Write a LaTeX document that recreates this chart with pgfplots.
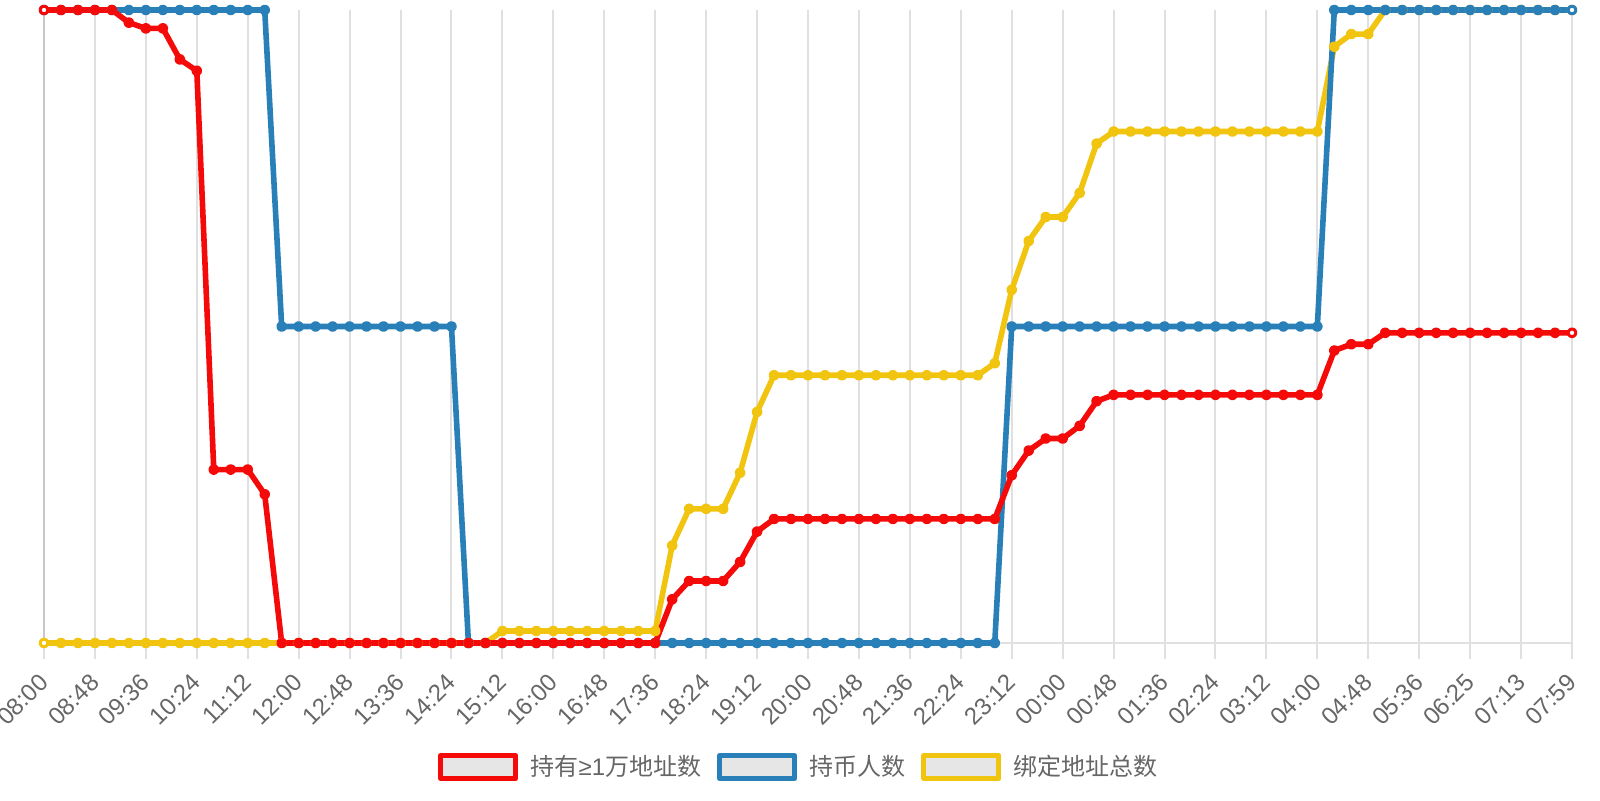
\documentclass[border=0pt]{standalone}
\usepackage{fontspec}
\setmainfont{Liberation Sans}
\newfontfamily\cjk{Noto Sans CJK SC}
\newfontfamily\lat{Liberation Sans}
\usepackage{pgfplots}
\usepackage{pgfplotstable}
\pgfplotsset{compat=1.18}

\definecolor{cred}{HTML}{F50A0A}
\definecolor{cblue}{HTML}{2980B9}
\definecolor{cyellow}{HTML}{F1C40F}
\definecolor{gridc}{HTML}{E0E0E0}
\definecolor{axisc}{HTML}{C8C8C8}
\definecolor{txt}{HTML}{666666}
\definecolor{boxfill}{HTML}{E6E6E6}

% i = sample index (every 16 min), r = red, b = blue, y = yellow
\pgfplotstableread{
i r b y
0 100 100 0
1 100 100 0
2 100 100 0
3 100 100 0
4 100 100 0
5 98.0 100 0
6 97.1 100 0
7 97.1 100 0
8 92.2 100 0
9 90.4 100 0
10 27.4 100 0
11 27.4 100 0
12 27.4 100 0
13 23.5 100 0
14 0 50 0
15 0 50 0
16 0 50 0
17 0 50 0
18 0 50 0
19 0 50 0
20 0 50 0
21 0 50 0
22 0 50 0
23 0 50 0
24 0 50 0
25 0 0 0
26 0 0 0
27 0 0 1.9
28 0 0 1.9
29 0 0 1.9
30 0 0 1.9
31 0 0 1.9
32 0 0 1.9
33 0 0 1.9
34 0 0 1.9
35 0 0 1.9
36 0 0 1.9
37 6.9 0 15.4
38 9.8 0 21.2
39 9.8 0 21.2
40 9.8 0 21.2
41 12.8 0 26.9
42 17.6 0 36.5
43 19.6 0 42.3
44 19.6 0 42.3
45 19.6 0 42.3
46 19.6 0 42.3
47 19.6 0 42.3
48 19.6 0 42.3
49 19.6 0 42.3
50 19.6 0 42.3
51 19.6 0 42.3
52 19.6 0 42.3
53 19.6 0 42.3
54 19.6 0 42.3
55 19.6 0 42.3
56 19.6 0 44.2
57 26.5 50 55.8
58 30.4 50 63.5
59 32.3 50 67.3
60 32.3 50 67.3
61 34.3 50 71.1
62 38.2 50 78.9
63 39.2 50 80.8
64 39.2 50 80.8
65 39.2 50 80.8
66 39.2 50 80.8
67 39.2 50 80.8
68 39.2 50 80.8
69 39.2 50 80.8
70 39.2 50 80.8
71 39.2 50 80.8
72 39.2 50 80.8
73 39.2 50 80.8
74 39.2 50 80.8
75 39.2 50 80.8
76 46.2 100 94.2
77 47.2 100 96.2
78 47.2 100 96.2
79 49.0 100 100
80 49.0 100 100
81 49.0 100 100
82 49.0 100 100
83 49.0 100 100
84 49.0 100 100
85 49.0 100 100
86 49.0 100 100
87 49.0 100 100
88 49.0 100 100
89 49.0 100 100
90 49.0 100 100
}\data

\begin{document}
\begin{tikzpicture}
\begin{axis}[
  at={(22pt,78.5pt)}, anchor=south west,
  scale only axis, width=764pt, height=316.5pt,
  xmin=0, xmax=90, ymin=0, ymax=100,
  clip=false,
  axis x line*=bottom, axis y line*=left,
  x axis line style={draw=gridc, line width=1pt, -},
  y axis line style={draw=axisc, line width=1pt, -},
  ytick=\empty,
  xtick={0,3,...,90},
  xticklabels={08:00,08:48,09:36,10:24,11:12,12:00,12:48,13:36,14:24,15:12,16:00,16:48,17:36,18:24,19:12,20:00,20:48,21:36,22:24,23:12,00:00,00:48,01:36,02:24,03:12,04:00,04:48,05:36,06:25,07:13,07:59},
  xmajorgrids, major grid style={draw=gridc, line width=1pt},
  xtick align=outside, major tick length=8pt,
  xtick style={draw=gridc, line width=1pt},
  xticklabel style={rotate=45, anchor=east, font=\fontsize{12}{14}\selectfont, text=txt, inner sep=0pt, xshift=-6.8pt, yshift=-6.8pt},
  legend style={at={(0.4948,-0.196)}, anchor=center, draw=none, fill=none,
    legend columns=-1, font=\cjk\fontsize{12}{14}\selectfont, text=txt,
    /tikz/every even column/.append style={column sep=6pt}},
  reverse legend,
  legend image code/.code={\draw[#1, solid, line width=2.5pt, fill=boxfill] (0pt,-5.75pt) rectangle (37.5pt,5.75pt); \path (41.5pt,0pt);},
  every axis plot/.append style={line width=2.8pt, line join=round, mark=*, mark size=1.3pt},
]
\addplot[cyellow, mark options={fill=cyellow!85!black, draw=none}] table[x=i, y=y] {\data};
\addplot[forget plot, only marks, mark indices={1}, mark size=1.6pt, mark options={fill=white, draw=cyellow, line width=0.8pt}] table[x=i, y=y] {\data};
\addplot[cblue, mark options={fill=cblue!85!black, draw=none}] table[x=i, y=b] {\data};
\addplot[forget plot, only marks, mark indices={91}, mark size=1.6pt, mark options={fill=white, draw=cblue, line width=0.8pt}] table[x=i, y=b] {\data};
\addplot[cred, mark options={fill=cred!85!black, draw=none}] table[x=i, y=r] {\data};
\addplot[forget plot, only marks, mark indices={1,91}, mark size=1.6pt, mark options={fill=white, draw=cred, line width=0.8pt}] table[x=i, y=r] {\data};
\legend{绑定地址总数, 持币人数, 持有{\lat ≥1}万地址数}
\end{axis}
\pgfresetboundingbox
\path (0,0) rectangle (800pt,400pt);
\end{tikzpicture}
\end{document}
